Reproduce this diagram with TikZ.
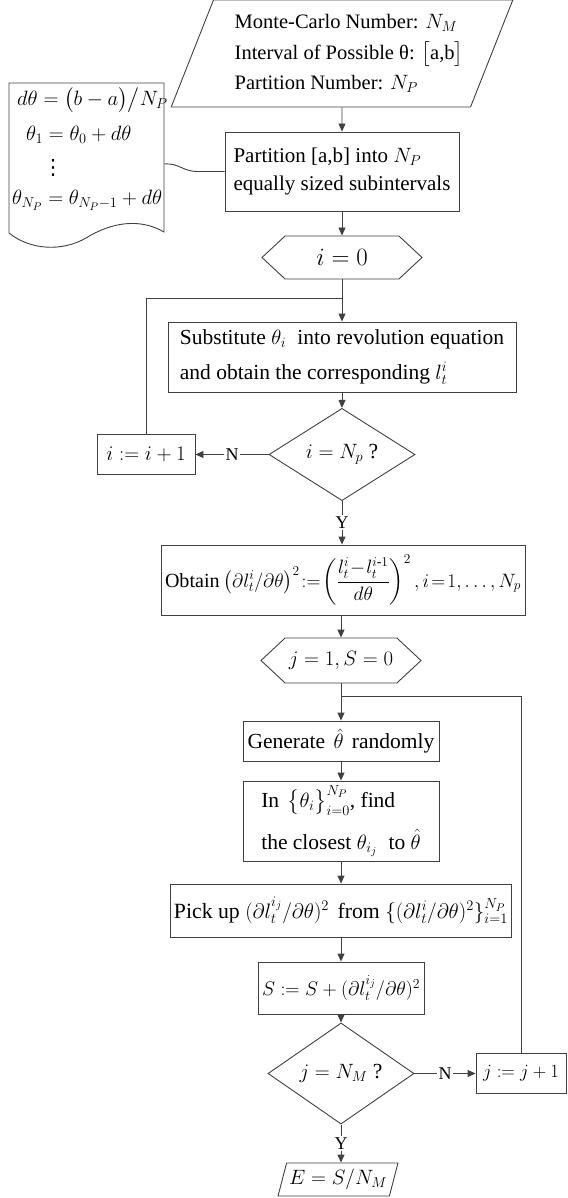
\documentclass[tikz,border=0pt]{standalone}
\usepackage{amsmath}
\usepackage{fontspec}
\setmainfont{Liberation Serif}
\newfontfamily\djv{DejaVu Sans}
\usetikzlibrary{shapes.geometric,shapes.symbols,arrows.meta}
\definecolor{linec}{gray}{0.25}
\newcommand\fsz{\fontsize{21.5}{28}\selectfont}
\begin{document}
\begin{tikzpicture}[x=1pt,y=-1pt,
  base/.style={draw=linec,line width=0.9pt,inner sep=0pt,font=\fsz,text=black},
  boxn/.style={base,rectangle},
  para/.style={base,trapezium,trapezium stretches=true},
  hexn/.style={base,signal,signal to=west and east,signal pointer angle=86},
  dia/.style={base,diamond},
  ln/.style={draw=linec,line width=0.9pt},
  arr/.style={ln,-{Triangle[length=8pt,width=7pt]}},
  lbl/.style={fill=white,inner sep=1.5pt,font=\fontsize{18}{20}\selectfont,text=black},
  txt/.style={inner sep=0pt,font=\fsz,anchor=west}
]
\useasboundingbox (0,0) rectangle (567,1198);

% input
\node[para,minimum width=342,minimum height=107,trapezium left angle=63,trapezium right angle=117,
      align=left,font=\fontsize{20.5}{30.5}\selectfont] (in) at (342,53.5)
  {\hspace*{14pt}Monte-Carlo Number: $N_M$\\\hspace*{14pt}Interval of Possible θ: $\bigl[\text{a,b}\bigr]$\\\hspace*{14pt}Partition Number: $N_P$};

\node[boxn,minimum width=234,minimum height=79,align=left,font=\fontsize{21}{28}\selectfont] (part) at (342,171.5)
  {Partition [a,b] into $N_P$\\equally sized subintervals};

% document note
\draw[ln] (9,233) -- (9,83) -- (164,83) -- (164,232)
  .. controls (140,218) and (112,222) .. (86,238)
  .. controls (62,252) and (30,250) .. (9,233) -- cycle;
\node[txt] (d1) at (17,100) {$d\theta = \bigl(b-a\bigr)\big/N_P$};
\node[txt] (d2) at (26,135) {$\theta_1 = \theta_0 + d\theta$};
\node[inner sep=0pt,font=\fontsize{21}{24}\djv] (d3) at (53,168) {⋮};
\node[txt] (d4) at (12,200) {$\theta_{N_P} = \theta_{N_P-1} + d\theta$};
\coordinate (dc) at (164,164);
\draw[ln] (dc) .. controls (180,163) and (182,171.5) .. (198,171.5) -- (part.west);

\node[hexn,minimum width=160,minimum height=43,font=\fontsize{23}{28}\selectfont] (hexi) at (342,257.5) {$i = 0$};

\node[boxn,minimum width=348,minimum height=70,align=left,font=\fontsize{21.5}{35}\selectfont] (sub) at (342,357)
  {Substitute $\theta_i$\hspace{6pt} into revolution equation\\and obtain the corresponding $l_t^i$};

\node[dia,minimum width=146,minimum height=69] (dia1) at (342,454.5) {$i = N_p$ ?};
\node[boxn,minimum width=98,minimum height=40] (inc1) at (146,454.5) {$i := i+1$};

\node[boxn,minimum width=364,minimum height=70] (obt) at (343,580)
  {\resizebox{356pt}{!}{\thickmuskip=2mu\medmuskip=1mu Obtain\hspace{4pt}$\bigl(\partial l_t^i/\partial\theta\bigr)^2 := \left(\dfrac{l_t^i - l_t^{i\text{-}1}}{d\theta}\right)^2, i=1,\ldots,N_p$}};

\node[hexn,minimum width=160,minimum height=45] (hexj) at (341,660.5) {$j = 1, S = 0$};

\node[boxn,minimum width=196,minimum height=40] (gen) at (341,741) {Generate\hspace{3pt} $\hat\theta$\hspace{3pt} randomly};

\node[boxn,minimum width=196,minimum height=80,align=left,font=\fontsize{21.5}{42}\selectfont] (inb) at (341,821)
  {In\hspace{3pt} $\bigl\{\theta_i\bigr\}_{i=0}^{N_P}$, find\\the closest $\theta_{i_j}$\hspace{6pt} to $\hat\theta$};

\node[boxn,minimum width=341,minimum height=53] (pick) at (341,910.5)
  {\resizebox{334pt}{!}{Pick up $(\partial l_t^{i_j}/\partial\theta)^2$\hspace{3pt} from $\{(\partial l_t^i/\partial\theta)^2\}_{i=1}^{N_P}$}};

\node[boxn,minimum width=166,minimum height=52] (sb) at (341,988) {\resizebox{158pt}{!}{$S := S + (\partial l_t^{i_j}/\partial\theta)^2$}};

\node[dia,minimum width=146,minimum height=69] (dia2) at (341,1073.5) {$j = N_M$ ?};
\node[boxn,minimum width=90,minimum height=40] (inc2) at (521,1073.5) {\resizebox{76pt}{!}{$j := j+1$}};

\node[para,minimum width=120,minimum height=33,trapezium left angle=68.5,trapezium right angle=111.5] (out) at (338,1179.5)
  {$E = S/N_M$};

% connectors
\coordinate (j1) at (342,298);
\coordinate (j2) at (341,696);
\draw[arr] (in.south) -- (part.north);
\draw[arr] (part.south) -- (hexi.north);
\draw[arr] (hexi.south) -- (sub.north);
\draw[ln] (inc1.north) |- (j1);
\draw[arr] (sub.south) -- (dia1.north);
\draw[arr] (dia1.west) -- node[lbl] {N} (inc1.east);
\draw[arr] (dia1.south) -- node[lbl] {Y} (dia1.south |- obt.north);
\draw[arr] (obt.south -| hexj.north) -- (hexj.north);
\draw[arr] (hexj.south) -- (gen.north);
\draw[ln] (inc2.north) |- (j2);
\draw[arr] (gen.south) -- (inb.north);
\draw[arr] (inb.south) -- (pick.north);
\draw[arr] (pick.south) -- (sb.north);
\draw[arr] (sb.south) -- (dia2.north);
\draw[arr] (dia2.east) -- node[lbl] {N} (inc2.west);
\draw[arr] (dia2.south) -- node[lbl] {Y} (dia2.south |- out.north);
\end{tikzpicture}
\end{document}
